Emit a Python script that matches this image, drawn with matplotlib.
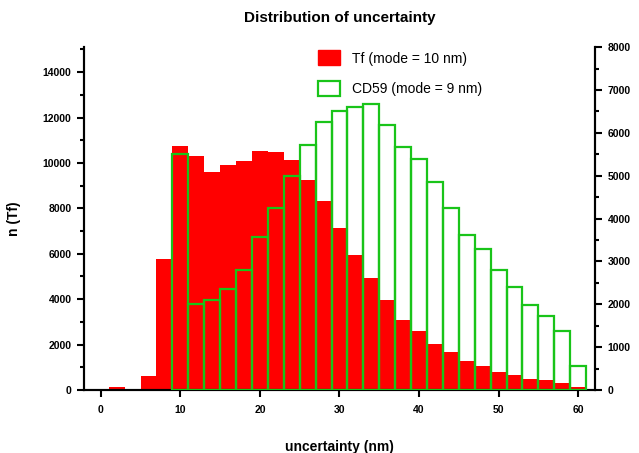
import matplotlib
matplotlib.use("Agg")
import matplotlib.pyplot as plt
from matplotlib.ticker import MultipleLocator
from matplotlib.patches import Patch
import numpy as np

plt.rcParams['font.family'] = ['Liberation Sans', 'DejaVu Sans']

# ---- data ----
bin_centers = [2, 4, 6, 8, 10, 12, 14, 16, 18, 20, 22, 24, 26, 28, 30,
               32, 34, 36, 38, 40, 42, 44, 46, 48, 50, 52, 54, 56, 58, 60]
tf_counts = [130, 0, 620, 5780, 10760, 10320, 9620, 9930, 10090, 10530,
             10480, 10150, 9250, 8330, 7140, 5960, 4950, 3970, 3080, 2610,
             2030, 1670, 1280, 1060, 790, 660, 490, 440, 310, 130]
cd59_counts = [0, 0, 0, 0, 5510, 2010, 2110, 2350, 2790, 3580,
               4250, 4990, 5720, 6250, 6500, 6610, 6670, 6190, 5675, 5380,
               4860, 4250, 3620, 3280, 2810, 2410, 1990, 1730, 1380, 570]
bin_width = 2
title = "Distribution of uncertainty"
xlabel = "uncertainty (nm)"
ylabel = "n (Tf)"
tf_label = "Tf (mode = 10 nm)"
cd59_label = "CD59 (mode = 9 nm)"
x_ticks = [0, 10, 20, 30, 40, 50, 60]
left_ticks = [0, 2000, 4000, 6000, 8000, 10000, 12000, 14000]
right_ticks = [0, 1000, 2000, 3000, 4000, 5000, 6000, 7000, 8000]

red = "#ff0000"
green = "#19c419"

fig = plt.figure(figsize=(6.39, 4.53), dpi=100)
ax = fig.add_axes([0.1315, 0.139, 0.7995, 0.757])
ax2 = ax.twinx()

ax.bar(bin_centers, tf_counts, width=bin_width, color=red, edgecolor='none', zorder=2)

cx = [c for c, v in zip(bin_centers, cd59_counts) if v > 0]
cv = [v for v in cd59_counts if v > 0]
ax2.bar(cx, cv, width=bin_width, fill=False, edgecolor=green, linewidth=1.6, zorder=3)

ax.set_xlim(-2.1, 62.1)
ax.set_ylim(0, 15100)
ax2.set_ylim(0, 8000)

ax.set_xticks(x_ticks)
ax.set_yticks(left_ticks)
ax2.set_yticks(right_ticks)
ax.yaxis.set_minor_locator(MultipleLocator(1000))
ax2.yaxis.set_minor_locator(MultipleLocator(500))

tick_font = dict(fontsize=7.5, fontweight='bold')
for a in (ax, ax2):
    for s in a.spines.values():
        s.set_linewidth(1.5)
    a.spines['top'].set_visible(False)
    a.tick_params(which='major', length=5, width=1.5, labelsize=7.5, pad=4)
    a.tick_params(which='minor', length=3, width=1.5)
ax.set_xticklabels([str(t) for t in x_ticks], **tick_font)
ax.set_yticklabels([str(t) for t in left_ticks], **tick_font)
ax2.set_yticklabels([str(t) for t in right_ticks], **tick_font)
ax.tick_params(axis='x', pad=6)

ax.set_xlabel(xlabel, fontsize=10, fontweight='bold', labelpad=18)
ax.set_ylabel(ylabel, fontsize=10, fontweight='bold', labelpad=16)
ax.set_title(title, fontsize=11, fontweight='bold', pad=18)

handles = [Patch(facecolor=red, edgecolor=red),
           Patch(facecolor='white', edgecolor=green, linewidth=1.6)]
leg = ax2.legend(handles, [tf_label, cd59_label], loc='upper left',
                 bbox_to_anchor=(0.434, 1.027), frameon=False, fontsize=10,
                 handlelength=1.6, handleheight=1.3, labelspacing=1.1,
                 handletextpad=0.85)

fig.savefig("out.png", dpi=100)
